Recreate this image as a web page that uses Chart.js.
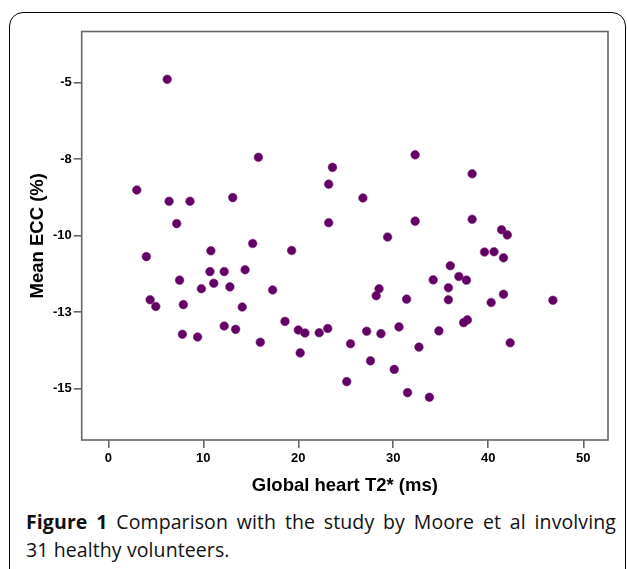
<!DOCTYPE html>
<html>
<head>
<meta charset="utf-8">
<script src="https://cdn.jsdelivr.net/npm/chart.js@4/dist/chart.umd.min.js"></script>
<style>
  body { margin: 0; background: #fff; width: 627px; height: 569px; overflow: hidden; position: relative; }
  #box { position: absolute; left: 9px; top: 12px; width: 617px; height: 575px; border: 1.5px solid #000; border-radius: 14px; box-sizing: border-box; }
  #wrap { position: absolute; left: 0; top: 0; width: 627px; height: 500px; }
  #caption { position: absolute; left: 26px; top: 508px; width: 590px; font-family: 'Open Sans', sans-serif; font-size: 19.5px; letter-spacing: 0.1px; font-weight: 500; line-height: 28px; color: #111; white-space: nowrap; }
  #caption .l1 { text-align: justify; text-align-last: justify; }
  #caption b { font-weight: 700; }
</style>
</head>
<body>
<div id="box"></div>
<div id="wrap"><canvas id="ecc"></canvas></div>
<div id="caption">
  <div class="l1"><b>Figure 1</b> Comparison with the study by Moore et al involving</div>
  <div>31 healthy volunteers.</div>
</div>
<script>
// global heart T2* (ms) and mean ECC (%) for each subject
const t2Values = [6.2, 15.8, 23.6, 3.0, 23.2, 6.4, 8.6, 13.1, 7.2, 23.2,
  4.0, 10.8, 15.2, 19.3, 32.3, 38.3, 26.8, 32.3, 38.3, 29.4,
  41.4, 42.0, 39.6, 40.6, 41.6, 10.7, 12.2, 14.4, 7.5, 11.1,
  9.8, 12.8, 17.3, 4.4, 5.0, 7.9, 14.1, 18.6, 12.2, 13.4,
  20.0, 20.7, 22.2, 23.1, 7.8, 9.4, 16.0, 25.5, 20.2, 25.1,
  36.0, 36.9, 37.7, 34.2, 35.8, 28.5, 28.2, 31.4, 35.8, 40.3,
  41.6, 46.8, 37.8, 37.4, 27.2, 28.7, 30.6, 34.8, 32.7, 42.3,
  27.6, 30.1, 31.5, 33.8];
const eccValues = [-4.89, -7.44, -7.77, -8.51, -8.32, -8.88, -8.88, -8.76, -9.61, -9.58,
  -10.69, -10.50, -10.26, -10.49, -7.36, -7.98, -8.77, -9.53, -9.47, -10.05,
  -9.81, -9.98, -10.54, -10.53, -10.73, -11.18, -11.18, -11.12, -11.46, -11.56,
  -11.74, -11.68, -11.78, -12.10, -12.32, -12.26, -12.34, -12.81, -12.96, -13.07,
  -13.09, -13.19, -13.18, -13.04, -13.23, -13.32, -13.49, -13.54, -13.84, -14.78,
  -10.99, -11.34, -11.46, -11.45, -11.71, -11.74, -11.97, -12.08, -12.10, -12.19,
  -11.92, -12.12, -12.76, -12.85, -13.13, -13.21, -12.99, -13.12, -13.65, -13.51,
  -14.10, -14.38, -15.14, -15.29];

const xTicks = [0, 10, 20, 30, 40, 50];
const yTicks = [-5, -7.5, -10, -12.5, -15];
const yTickLabels = ['-5', '-8', '-10', '-13', '-15']; // printed rounded, as in the original

Chart.defaults.font.family = "'Liberation Sans', Arial, sans-serif";

const points = t2Values.map((x, i) => ({ x: x, y: eccValues[i] }));

// grey box round the plot area
const framePlugin = {
  id: 'frame',
  afterDraw(chart) {
    const a = chart.chartArea;
    const ctx = chart.ctx;
    ctx.save();
    ctx.strokeStyle = '#666';
    ctx.lineWidth = 1.6;
    ctx.strokeRect(a.left, a.top, a.right - a.left, a.bottom - a.top);
    ctx.restore();
  }
};

const tickFont = { size: 13, weight: 'bold' };
const titleFont = { size: 18.5, weight: 'bold' };
const gridOpts = { display: true, drawOnChartArea: false, drawTicks: true, tickLength: 8, color: '#666', lineWidth: 1.6 };

new Chart(document.getElementById('ecc'), {
  type: 'scatter',
  data: {
    datasets: [{
      data: points,
      backgroundColor: '#630063',
      borderColor: '#7a1f7a',
      borderWidth: 0.6,
      pointRadius: 4.3
    }]
  },
  options: {
    responsive: true,
    maintainAspectRatio: false,
    animation: false,
    layout: { padding: { left: 0, top: 31.5, right: 19, bottom: 0 } },
    plugins: { legend: { display: false }, tooltip: { enabled: false } },
    scales: {
      x: {
        type: 'linear',
        min: -2.8,
        max: 52.6,
        afterBuildTicks: s => { s.ticks = xTicks.map(v => ({ value: v })); },
        afterFit: s => { s.height = 60; },
        ticks: { font: tickFont, color: '#000', padding: 3, autoSkip: false, maxRotation: 0 },
        grid: gridOpts,
        border: { display: false },
        title: { display: true, text: 'Global heart T2* (ms)', font: titleFont, color: '#000', padding: { top: 0, bottom: 2.5 } }
      },
      y: {
        type: 'linear',
        min: -16.69,
        max: -3.325,
        afterBuildTicks: s => { s.ticks = yTicks.map(v => ({ value: v })); },
        afterFit: s => { s.width = 81.7; },
        ticks: {
          font: tickFont, color: '#000', padding: 2, autoSkip: false,
          callback: (v, i) => yTickLabels[i]
        },
        grid: gridOpts,
        border: { display: false },
        title: { display: true, text: 'Mean ECC (%)', font: titleFont, color: '#000', padding: { top: 26.5, bottom: 0 } }
      }
    }
  },
  plugins: [framePlugin]
});
</script>
</body>
</html>
